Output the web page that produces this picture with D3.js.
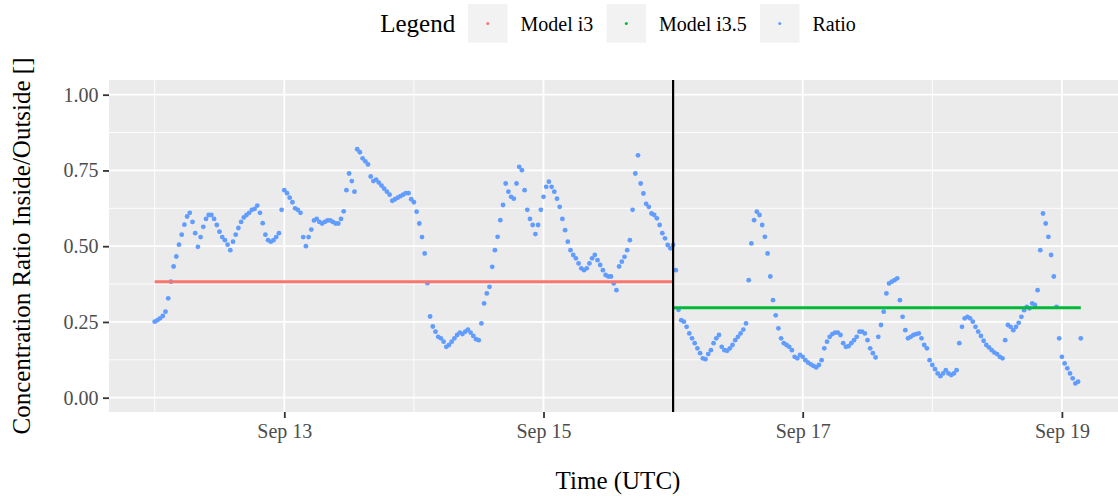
<!DOCTYPE html>
<html>
<head>
<meta charset="utf-8">
<script src="https://cdn.jsdelivr.net/npm/d3@7/dist/d3.min.js"></script>
<style>
body { margin: 0; background: #ffffff; }
text { font-family: "Liberation Serif", "Times New Roman", serif; }
</style>
</head>
<body>
<svg width="1118" height="496"></svg>
<script>
// ratio, one value every 30 minutes from Sep 12 00:00 UTC
var ratioStart = "2020-09-12T00:00:00Z";
var ratioStepMinutes = 30;

var ratioSep12 = [0.251, 0.256, 0.262, 0.27, 0.284, 0.328, 0.383, 0.433, 0.466, 0.505, 0.538, 0.571,
    0.598, 0.61, 0.58, 0.543, 0.498, 0.53, 0.564, 0.59, 0.603, 0.603, 0.59, 0.57,
    0.548, 0.53, 0.52, 0.505, 0.487, 0.515, 0.538, 0.56, 0.58, 0.595, 0.603, 0.61,
    0.62, 0.623, 0.634, 0.61, 0.576, 0.538, 0.52, 0.515, 0.52, 0.53, 0.543, 0.62];
var ratioSep13 = [0.685, 0.675, 0.66, 0.645, 0.625, 0.62, 0.61, 0.53, 0.50, 0.53, 0.555, 0.585,
    0.59, 0.58, 0.575, 0.58, 0.585, 0.585, 0.58, 0.575, 0.575, 0.59, 0.615, 0.685,
    0.74, 0.715, 0.68, 0.82, 0.81, 0.79, 0.78, 0.77, 0.73, 0.715, 0.72, 0.71,
    0.70, 0.69, 0.68, 0.67, 0.65, 0.655, 0.66, 0.665, 0.67, 0.675, 0.675, 0.655];
var ratioSep14 = [0.645, 0.614, 0.575, 0.53, 0.476, 0.378, 0.268, 0.235, 0.218, 0.201, 0.196, 0.185,
    0.168, 0.174, 0.185, 0.196, 0.207, 0.215, 0.21, 0.218, 0.225, 0.215, 0.204, 0.193,
    0.19, 0.245, 0.311, 0.344, 0.366, 0.432, 0.487, 0.531, 0.586, 0.636, 0.707, 0.68,
    0.663, 0.657, 0.707, 0.762, 0.751, 0.685, 0.62, 0.59, 0.57, 0.54, 0.57, 0.62];
var ratioSep15 = [0.663, 0.696, 0.713, 0.696, 0.68, 0.657, 0.63, 0.59, 0.553, 0.515, 0.487, 0.471,
    0.46, 0.443, 0.427, 0.421, 0.427, 0.443, 0.46, 0.471, 0.454, 0.438, 0.421, 0.405,
    0.40, 0.40, 0.377, 0.355, 0.433, 0.449, 0.465, 0.487, 0.52, 0.62, 0.74, 0.80,
    0.707, 0.674, 0.64, 0.63, 0.608, 0.603, 0.592, 0.57, 0.543, 0.526, 0.504, 0.493];
var ratioSep16 = [0.504, 0.421, 0.29, 0.256, 0.251, 0.234, 0.212, 0.196, 0.18, 0.163, 0.147, 0.13,
    0.127, 0.144, 0.157, 0.18, 0.196, 0.207, 0.168, 0.157, 0.155, 0.163, 0.174, 0.19,
    0.201, 0.212, 0.225, 0.245, 0.388, 0.509, 0.586, 0.614, 0.603, 0.57, 0.531, 0.476,
    0.40, 0.322, 0.272, 0.229, 0.196, 0.18, 0.174, 0.168, 0.157, 0.135, 0.13, 0.141];
var ratioSep17 = [0.135, 0.124, 0.116, 0.11, 0.105, 0.10, 0.108, 0.124, 0.163, 0.185, 0.201, 0.21,
    0.215, 0.215, 0.207, 0.18, 0.168, 0.17, 0.18, 0.19, 0.201, 0.218, 0.218, 0.212,
    0.19, 0.163, 0.147, 0.133, 0.201, 0.24, 0.284, 0.344, 0.377, 0.383, 0.388, 0.394,
    0.322, 0.267, 0.223, 0.196, 0.201, 0.207, 0.21, 0.212, 0.196, 0.174, 0.163, 0.124];
var ratioSep18 = [0.108, 0.094, 0.08, 0.071, 0.08, 0.091, 0.08, 0.075, 0.08, 0.091, 0.18, 0.234,
    0.262, 0.267, 0.262, 0.251, 0.234, 0.218, 0.204, 0.188, 0.174, 0.166, 0.157, 0.149,
    0.144, 0.135, 0.13, 0.19, 0.24, 0.234, 0.223, 0.234, 0.247, 0.267, 0.289, 0.30,
    0.295, 0.311, 0.306, 0.355, 0.487, 0.608, 0.575, 0.531, 0.471, 0.40, 0.30, 0.196];
var ratioSep19 = [0.135, 0.113, 0.097, 0.08, 0.064, 0.047, 0.053, 0.196];

var ratio = [].concat(ratioSep12, ratioSep13, ratioSep14, ratioSep15,
    ratioSep16, ratioSep17, ratioSep18, ratioSep19);

// the two constant model lines
var modelNames = ["Model i3", "Model i3.5"];
var modelValues = [0.383, 0.297];
var modelFrom = ["2020-09-12T00:00:00Z", "2020-09-16T00:00:00Z"];
var modelTo = ["2020-09-16T00:00:00Z", "2020-09-19T03:30:00Z"];
var switchTime = "2020-09-16T00:00:00Z";

var legendLabels = ["Model i3", "Model i3.5", "Ratio"];
var legendColors = ["#F8766D", "#00BA38", "#619CFF"];

var yTicks = [0, 0.25, 0.5, 0.75, 1];
var yMinor = [0.125, 0.375, 0.625, 0.875];
var xTicks = ["2020-09-13T00:00:00Z", "2020-09-15T00:00:00Z", "2020-09-17T00:00:00Z", "2020-09-19T00:00:00Z"];
var xMinor = ["2020-09-12T00:00:00Z", "2020-09-14T00:00:00Z", "2020-09-16T00:00:00Z", "2020-09-18T00:00:00Z"];

var svg = d3.select("svg");

let panel = { left: 109, right: 1127, top: 80, bottom: 412 };
let bigFont = 25;   // titles
let smallFont = 20; // tick + legend labels

let x = d3.scaleUtc()
    .domain([new Date("2020-09-12T00:00:00Z"), new Date("2020-09-19T00:00:00Z")])
    .range([154.7, 1061.9]);

let y = d3.scaleLinear()
    .domain([0, 1])
    .range([397.7, 94.7]);

// panel background + grid
svg.append("rect")
    .attr("x", panel.left).attr("y", panel.top)
    .attr("width", panel.right - panel.left)
    .attr("height", panel.bottom - panel.top)
    .attr("fill", "#EBEBEB");

let grid = svg.append("g").attr("stroke", "#ffffff");

grid.selectAll("line.ymin").data(yMinor).enter().append("line")
    .attr("x1", panel.left).attr("x2", panel.right)
    .attr("y1", function(d) { return y(d); }).attr("y2", function(d) { return y(d); })
    .attr("stroke-width", 0.9);
grid.selectAll("line.xmin").data(xMinor).enter().append("line")
    .attr("y1", panel.top).attr("y2", panel.bottom)
    .attr("x1", function(d) { return x(new Date(d)); }).attr("x2", function(d) { return x(new Date(d)); })
    .attr("stroke-width", 0.9);
grid.selectAll("line.ymaj").data(yTicks).enter().append("line")
    .attr("x1", panel.left).attr("x2", panel.right)
    .attr("y1", function(d) { return y(d); }).attr("y2", function(d) { return y(d); })
    .attr("stroke-width", 1.8);
grid.selectAll("line.xmaj").data(xTicks).enter().append("line")
    .attr("y1", panel.top).attr("y2", panel.bottom)
    .attr("x1", function(d) { return x(new Date(d)); }).attr("x2", function(d) { return x(new Date(d)); })
    .attr("stroke-width", 1.8);

// ratio points
let points = ratio.map(function(v, i) {
    return { t: d3.utcMinute.offset(new Date(ratioStart), i * ratioStepMinutes), v: v };
});

svg.append("g").selectAll("circle")
    .data(points)
    .enter().append("circle")
    .attr("cx", function(d) { return x(d.t); })
    .attr("cy", function(d) { return y(d.v); })
    .attr("r", 2.4)
    .attr("fill", legendColors[2]);

// model lines
svg.append("g").selectAll("line")
    .data(modelNames)
    .enter().append("line")
    .attr("x1", function(d, i) { return x(new Date(modelFrom[i])); })
    .attr("x2", function(d, i) { return x(new Date(modelTo[i])); })
    .attr("y1", function(d, i) { return y(modelValues[i]); })
    .attr("y2", function(d, i) { return y(modelValues[i]); })
    .attr("stroke", function(d, i) { return legendColors[i]; })
    .attr("stroke-width", 3);

svg.append("line")
    .attr("x1", x(new Date(switchTime))).attr("x2", x(new Date(switchTime)))
    .attr("y1", panel.top).attr("y2", panel.bottom)
    .attr("stroke", "#000000")
    .attr("stroke-width", 2.2);

// axes
let yAxis = d3.axisLeft(y).tickValues(yTicks).tickFormat(d3.format(".2f"))
    .tickSize(6).tickPadding(4.5);
let yGroup = svg.append("g").attr("transform", "translate(" + panel.left + ",0)").call(yAxis);

let xAxis = d3.axisBottom(x).tickValues(xTicks.map(function(d) { return new Date(d); }))
    .tickFormat(d3.utcFormat("%b %d")).tickSize(6).tickPadding(6);
let xGroup = svg.append("g").attr("transform", "translate(0," + panel.bottom + ")").call(xAxis);

[xGroup, yGroup].forEach(function(g) {
    g.select(".domain").remove();
    g.selectAll(".tick line").attr("stroke", "#333333").attr("stroke-width", 1.8);
    g.selectAll(".tick text")
        .attr("fill", "#4D4D4D")
        .attr("font-size", smallFont)
        .attr("font-family", "Liberation Serif, Times New Roman, serif");
});

// axis titles
svg.append("text")
    .attr("x", (panel.left + panel.right) / 2)
    .attr("y", 489)
    .attr("text-anchor", "middle")
    .attr("font-size", bigFont)
    .text("Time (UTC)");

svg.append("text")
    .attr("transform", "translate(29.5," + ((panel.top + panel.bottom) / 2) + ") rotate(-90)")
    .attr("text-anchor", "middle")
    .attr("font-size", bigFont)
    .text("Concentration Ratio Inside/Outside []");

// legend on top, centred over the panel
let legend = svg.append("g");
let legendTitle = legend.append("text")
    .attr("x", 0).attr("y", 31.5)
    .attr("font-size", bigFont)
    .text("Legend");

let cursor = legendTitle.node().getComputedTextLength() + 13;
legendLabels.forEach(function(lab, i) {
    legend.append("rect")
        .attr("x", cursor).attr("y", 4)
        .attr("width", 39.4).attr("height", 38.7)
        .attr("fill", "#F2F2F2");
    legend.append("circle")
        .attr("cx", cursor + 19.7).attr("cy", 23.4)
        .attr("r", 1.5)
        .attr("fill", legendColors[i]);
    let t = legend.append("text")
        .attr("x", cursor + 39.4 + 13).attr("y", 30.5)
        .attr("font-size", smallFont)
        .text(lab);
    cursor += 39.4 + 13 + t.node().getComputedTextLength() + 13.3;
});
let legendWidth = cursor - 13.3;
legend.attr("transform", "translate(" + ((panel.left + panel.right) / 2 - legendWidth / 2) + ",0)");
</script>
</body>
</html>
